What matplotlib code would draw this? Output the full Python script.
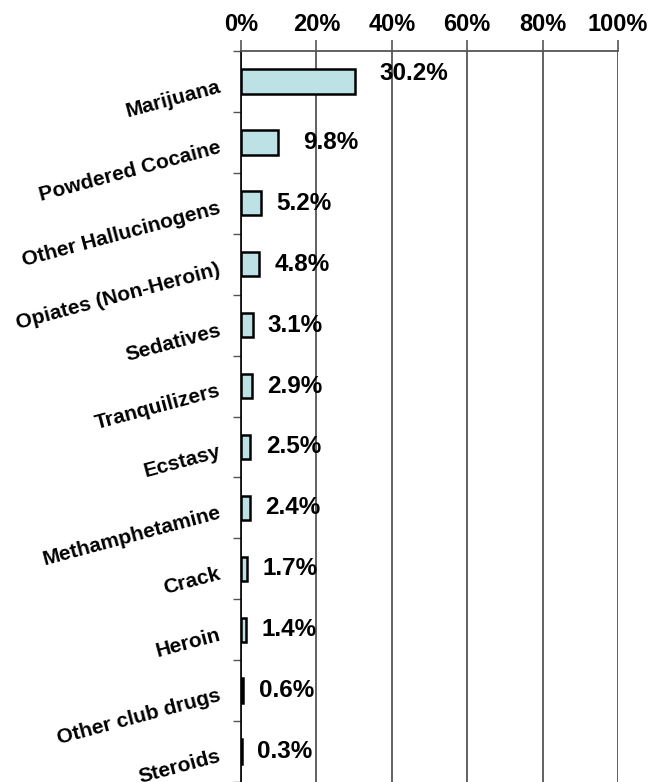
import matplotlib
matplotlib.use("Agg")
import matplotlib.pyplot as plt
import numpy as np

categories = ["Marijuana", "Powdered Cocaine", "Other Hallucinogens",
              "Opiates (Non-Heroin)", "Sedatives", "Tranquilizers", "Ecstasy",
              "Methamphetamine", "Crack", "Heroin", "Other club drugs", "Steroids"]
values = [30.2, 9.8, 5.2, 4.8, 3.1, 2.9, 2.5, 2.4, 1.7, 1.4, 0.6, 0.3]
x_ticks = [0, 20, 40, 60, 80, 100]
x_tick_labels = ["0%", "20%", "40%", "60%", "80%", "100%"]

plt.rcParams['font.family'] = ['Liberation Sans', 'DejaVu Sans']

fig = plt.figure(figsize=(6.64, 7.82), dpi=100)
ax = fig.add_axes([241 / 664, 0.0, 377 / 664, 731 / 782])

y = np.arange(len(categories))
ax.barh(y, values, height=0.4, color="#BDE2E5", edgecolor="black",
        linewidth=1.8, zorder=3)

ax.set_xlim(0, 100)
ax.set_ylim(len(categories) - 0.5, -0.5)

# percent axis on top
ax.xaxis.tick_top()
ax.set_xticks(x_ticks)
ax.set_xticklabels(x_tick_labels, fontsize=17, fontweight="bold")
ax.tick_params(axis="x", length=8, width=1.2, color="#555555", pad=3)

# category boundaries carry the tick marks, labels sit at the centres
ax.set_yticks(np.arange(len(categories) + 1) - 0.5)
ax.set_yticklabels([])
ax.tick_params(axis="y", length=6, width=1.0, color="#555555")
for yi, name in zip(y, categories):
    ax.annotate(name, xy=(0, yi), xycoords=("axes fraction", "data"),
                xytext=(-15, -3.5), textcoords="offset points",
                ha="right", va="center", rotation=15, rotation_mode="anchor",
                fontsize=15, fontweight="bold")

ax.grid(axis="x", color="#555555", linewidth=1.3, zorder=0)
for side in ["right", "bottom"]:
    ax.spines[side].set_visible(False)
ax.spines["left"].set_color("black")
ax.spines["left"].set_linewidth(1.2)
ax.spines["top"].set_color("#555555")
ax.spines["top"].set_linewidth(1.3)

# value labels beside each bar
for i, (yi, v) in enumerate(zip(y, values)):
    dx, dy = 11, 0
    if i == 0:
        dx, dy = 18, 6
    elif i == 1:
        dx = 18
    ax.annotate(f"{v:.1f}%", xy=(v, yi), xytext=(dx, dy),
                textcoords="offset points", ha="left", va="center",
                fontsize=17.5, fontweight="bold", zorder=4)

fig.savefig("out.png", dpi=100)
